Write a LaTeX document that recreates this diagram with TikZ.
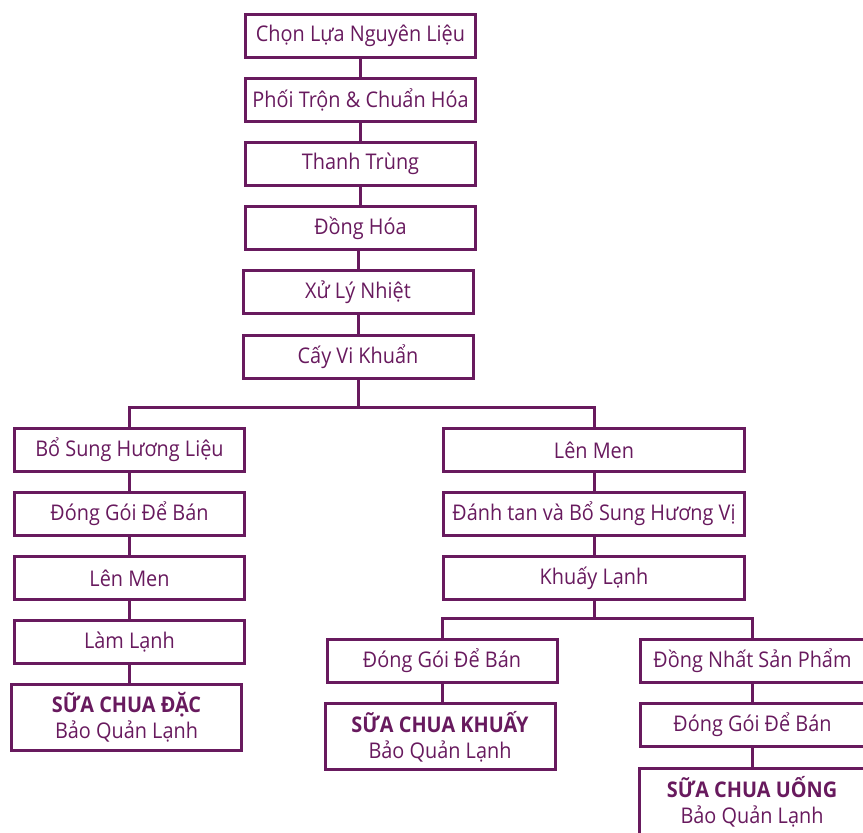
\documentclass[tikz,border=0pt]{standalone}
\usepackage{fontspec}
\setmainfont[FakeStretch=0.92]{Open Sans}
\usetikzlibrary{positioning}
\definecolor{plum}{RGB}{104,26,94}
\tikzstyle{stage} = [rectangle, minimum width=115pt, minimum height=21.5pt, inner sep=0pt, text centered, align=center, draw=plum, text=plum, line width=1.5pt, font=\fontsize{10.8}{13}\selectfont]
\tikzstyle{wide} = [stage, minimum width=150.5pt]
\tikzstyle{product} = [stage, minimum height=33pt]
\tikzstyle{link} = [plum, line width=1.5pt]

\begin{document}
\begin{tikzpicture}[x=0.5pt, y=-0.5pt]
    \useasboundingbox (0,0) rectangle (863,832);

    % main line
    \node (raw_select) [stage] at (360.5,36) {Chọn Lựa Nguyên Liệu};
    \node (mixing) [stage] at (360.5,100) {Phối Trộn \& Chuẩn Hóa};
    \node (pasteurize) [stage] at (360.5,164) {Thanh Trùng};
    \node (homogenize) [stage] at (360.5,228) {Đồng Hóa};
    \node (heat_treat) [stage] at (358,292) {Xử Lý Nhiệt};
    \node (inoculate) [stage] at (358,356.5) {Cấy Vi Khuẩn};

    % set yoghurt branch
    \node (flavour_add) [stage] at (129.5,450) {Bổ Sung Hương Liệu};
    \node (set_pack) [stage] at (129.5,514) {Đóng Gói Để Bán};
    \node (set_ferment) [stage] at (129.5,578) {Lên Men};
    \node (set_cool) [stage] at (129.5,642) {Làm Lạnh};
    \node (set_product) [product] at (126.5,717.5) {\textbf{SỮA CHUA ĐẶC}\\Bảo Quản Lạnh};

    % stirred branch
    \node (stir_ferment) [wide] at (594,450) {Lên Men};
    \node (break_flavour) [wide] at (594,514) {Đánh tan và Bổ Sung Hương Vị};
    \node (cool_stir) [wide] at (594,578) {Khuấy Lạnh};
    \node (stir_pack) [stage] at (442,661) {Đóng Gói Để Bán};
    \node (stir_product) [product] at (440,736.5) {\textbf{SỮA CHUA KHUẤY}\\Bảo Quản Lạnh};
    \node (unify) [stage, minimum width=112pt] at (752.5,661) {Đồng Nhất Sản Phẩm};
    \node (drink_pack) [stage, minimum width=112pt] at (752.5,725) {Đóng Gói Để Bán};
    \node (drink_product) [product, minimum width=113pt] at (752,801.5) {\textbf{SỮA CHUA UỐNG}\\Bảo Quản Lạnh};

    \coordinate (split_main) at (358,407);
    \coordinate (split_stir) at (594,618);

    \draw [link] (raw_select) -- (mixing);
    \draw [link] (mixing) -- (pasteurize);
    \draw [link] (pasteurize) -- (homogenize);
    \draw [link] (homogenize.south -| heat_treat) -- (heat_treat);
    \draw [link] (heat_treat) -- (inoculate);
    \draw [link] (inoculate) -- (split_main);
    \draw [link] (flavour_add.north) -- (flavour_add.north |- split_main) -- (stir_ferment.north |- split_main) -- (stir_ferment.north);

    \draw [link] (flavour_add) -- (set_pack);
    \draw [link] (set_pack) -- (set_ferment);
    \draw [link] (set_ferment) -- (set_cool);
    \draw [link] (set_cool.south) -- (set_cool.south |- set_product.north);

    \draw [link] (stir_ferment) -- (break_flavour);
    \draw [link] (break_flavour) -- (cool_stir);
    \draw [link] (cool_stir) -- (split_stir);
    \draw [link] (stir_pack.north) -- (stir_pack.north |- split_stir) -- (unify.north |- split_stir) -- (unify.north);
    \draw [link] (stir_pack.south) -- (stir_pack.south |- stir_product.north);
    \draw [link] (unify) -- (drink_pack);
    \draw [link] (drink_pack.south) -- (drink_pack.south |- drink_product.north);

    \end{tikzpicture}
\end{document}
